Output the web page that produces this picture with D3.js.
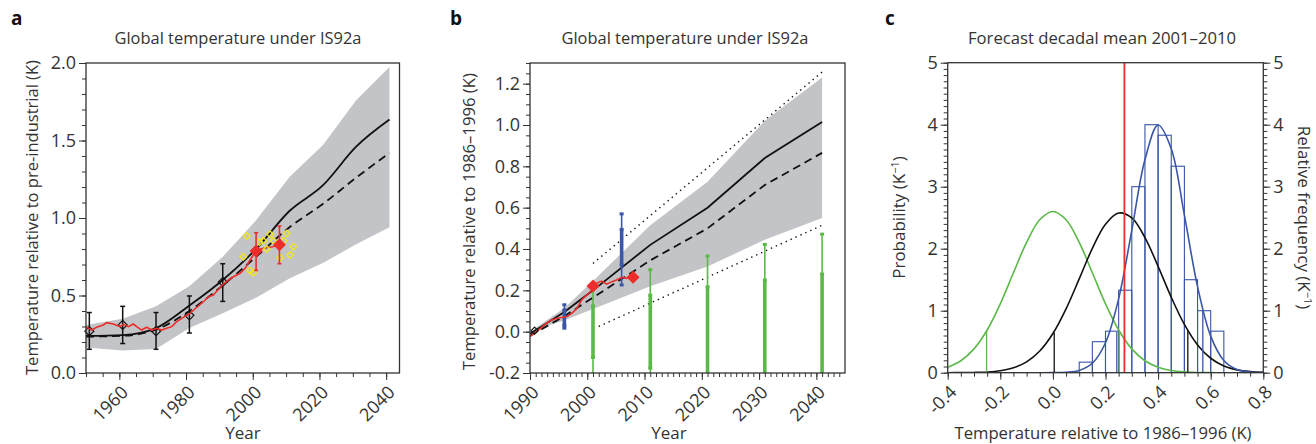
<!DOCTYPE html>
<html>
<head>
<meta charset="utf-8">
<script src="https://cdn.jsdelivr.net/npm/d3@7"></script>
<style>
body { margin: 0; background: #fff; }
svg text { font-family: "Open Sans", sans-serif; fill: #333; }
</style>
</head>
<body>
<div id="chart"></div>
<script>
// ---- panel a : temperature relative to pre-industrial ----
var bandYearsA = [1950, 1961, 1971, 1981, 1991, 2001, 2011, 2021, 2031, 2041]
var bandHiA = [0.31, 0.35, 0.43, 0.56, 0.75, 0.985, 1.265, 1.47, 1.76, 1.975]
var bandLoA = [0.165, 0.145, 0.155, 0.29, 0.385, 0.485, 0.61, 0.71, 0.83, 0.94]
var solidA = [0.24, 0.245, 0.29, 0.435, 0.6, 0.8, 1.045, 1.21, 1.46, 1.635]
var dashA = [0.235, 0.24, 0.28, 0.4, 0.565, 0.75, 0.94, 1.09, 1.26, 1.42]
var obsYearsA = [1951, 1961, 1971, 1981, 1991]
var obsA = [0.27, 0.31, 0.27, 0.372, 0.587]
var obsLoA = [0.153, 0.19, 0.153, 0.258, 0.462]
var obsHiA = [0.39, 0.43, 0.39, 0.497, 0.705]
var redYearsA = [1950, 1951.7, 1953.2, 1955.2, 1956.2, 1958.2, 1960.2, 1961.2, 1962.7, 1964.2, 1965.2,
  1966.7, 1968.2, 1969.7, 1971.2, 1972.7, 1974.2, 1975.7, 1977.2, 1979.2, 1981.2, 1983.2, 1985.2,
  1986.7, 1988.2, 1989.7, 1991.2, 1992.7, 1994.2, 1996.2, 1997.7, 1999.2, 2000.2, 2001, 2002.5,
  2004, 2006, 2008]
var redA = [0.299, 0.277, 0.295, 0.31, 0.325, 0.316, 0.299, 0.314, 0.299, 0.316, 0.299,
  0.277, 0.295, 0.277, 0.288, 0.277, 0.288, 0.299, 0.331, 0.359, 0.385, 0.424, 0.46,
  0.492, 0.503, 0.54, 0.574, 0.6, 0.621, 0.643, 0.675, 0.729, 0.761, 0.785, 0.8,
  0.81, 0.815, 0.828]
var fcYears = [2001, 2008]
var fcA = [0.787, 0.828]
var fcLoA = [0.662, 0.705]
var fcHiA = [0.905, 0.948]
var yelYearsA = [1998.2, 1997.2, 1999.2, 2000.2, 2002, 2003.2, 2004.2, 2005.2, 2006.2, 2009.2, 2010.2, 2008.2, 2011.2, 2012.2]
var yelA = [0.884, 0.75, 0.66, 0.647, 0.845, 0.853, 0.8, 0.895, 0.853, 0.853, 0.901, 0.744, 0.761, 0.815]

// ---- panel b : temperature relative to 1986-1996 ----
var bandYearsB = [1990, 1996, 2001, 2011, 2021, 2031, 2041]
var bandHiB = [0, 0.115, 0.245, 0.515, 0.725, 1.02, 1.23]
var bandLoB = [0, 0.055, 0.11, 0.22, 0.315, 0.445, 0.55]
var solidB = [-0.01, 0.095, 0.2, 0.42, 0.6, 0.84, 1.015]
var dashB = [-0.02, 0.075, 0.165, 0.345, 0.5, 0.71, 0.865]
var dotHiYearsB = [2001, 2041]
var dotHiB = [0.33, 1.256]
var dotLoYearsB = [2002, 2041]
var dotLoB = [0.025, 0.515]
var redYearsB = [1990, 1991.2, 1992.3, 1993.5, 1994.7, 1995.8, 1996.4, 1997.3, 1998.2, 1999, 1999.9,
  2000.8, 2001.6, 2002.5, 2003.4, 2004.3, 2005.1, 2006, 2006.9, 2007.5]
var redB = [-0.024, 0, 0.028, 0.053, 0.065, 0.07, 0.072, 0.089, 0.113, 0.153, 0.177,
  0.2, 0.234, 0.245, 0.23, 0.242, 0.25, 0.263, 0.258, 0.266]
var fcB = [0.221, 0.263]
var startYearB = [1990.8]
var startB = [0.005]
var blueYearsB = [1996, 2006]
var blueLoB = [0.017, 0.226]
var blueHiB = [0.13, 0.57]
var blueBoxLoB = [0.03, 0.322]
var blueBoxHiB = [0.105, 0.495]
var greenYearsB = [2001, 2011, 2021, 2031, 2041]
var greenLoB = [-0.21, -0.3, -0.366, -0.422, -0.472]
var greenHiB = [0.21, 0.3, 0.366, 0.422, 0.472]
var greenBoxLoB = [-0.125, -0.177, -0.217, -0.25, -0.279]
var greenBoxHiB = [0.125, 0.177, 0.217, 0.25, 0.279]

// ---- panel c : forecast decadal mean 2001-2010 ----
var tempC = [-0.4, -0.35, -0.3, -0.25, -0.2, -0.15, -0.1, -0.05, 0, 0.05, 0.1, 0.15, 0.2,
  0.25, 0.3, 0.35, 0.4, 0.45, 0.5, 0.55, 0.6, 0.65, 0.7, 0.75, 0.8]
var greenC = [0.087, 0.193, 0.384, 0.689, 1.111, 1.612, 2.102, 2.466, 2.6, 2.466, 2.102, 1.612, 1.111,
  0.689, 0.384, 0.193, 0.087, 0.035, 0.013, 0.004, 0.001, 0, 0, 0, 0]
var blackC = [0.0003, 0.001, 0.004, 0.012, 0.032, 0.078, 0.174, 0.349, 0.632, 1.03, 1.514, 2.005, 2.394,
  2.575, 2.496, 2.18, 1.716, 1.217, 0.778, 0.448, 0.233, 0.109, 0.046, 0.017, 0.006]
var blueC = [0, 0, 0, 0, 0, 0, 0, 0, 0.001, 0.007, 0.037, 0.152, 0.483,
  1.194, 2.297, 3.435, 3.995, 3.613, 2.54, 1.389, 0.59, 0.196, 0.05, 0.01, 0.002]
var binStartC = [0.1, 0.15, 0.2, 0.25, 0.3, 0.35, 0.4, 0.45, 0.5, 0.55, 0.6]
var binEndC = [0.15, 0.2, 0.25, 0.3, 0.35, 0.4, 0.45, 0.5, 0.55, 0.6, 0.65]
var histC = [0.17, 0.5, 0.67, 1.33, 3.0, 4.0, 3.83, 3.33, 1.5, 1.0, 0.67]
var greenPctC = [-0.252, 0.252], greenPctH = [0.68, 0.66]
var blackPctC = [0.005, 0.513], blackPctH = [0.65, 0.68]
var bluePctC = [0.243, 0.57], bluePctH = [0.66, 1.0]
var obsC = [0.272]

var grey = "#c3c4c7", red = "#ec2d2a", green = "#5bb947", blue = "#3a56a6", yellow = "#efe71c"

var svg = d3.select("#chart").append("svg")
    .attr("width", 1316)
    .attr("height", 444)

function zip(xs, ys) { return xs.map((d, i) => [d, ys[i]]) }
var fmt1 = d => d.toFixed(1)   // plain hyphen for negatives, like the original

function frame(x, y) {
  svg.append("rect")
    .attr("x", x.range()[0]).attr("y", y.range()[1])
    .attr("width", x.range()[1] - x.range()[0])
    .attr("height", y.range()[0] - y.range()[1])
    .attr("fill", "none").attr("stroke", "#333").attr("stroke-width", 1.3)
}

function clip(id, x, y) {
  svg.append("clipPath").attr("id", id).append("rect")
    .attr("x", x.range()[0]).attr("y", y.range()[1])
    .attr("width", x.range()[1] - x.range()[0])
    .attr("height", y.range()[0] - y.range()[1])
}

function axisX(x, y0, minor, major, fmt) {
  svg.append("g").attr("transform", "translate(0," + y0 + ")")
    .call(d3.axisBottom(x).tickValues(minor).tickSize(4).tickFormat(""))
    .attr("color", "#333")
    .call(g => g.select(".domain").remove())
  var g = svg.append("g").attr("transform", "translate(0," + y0 + ")")
    .call(d3.axisBottom(x).tickValues(major).tickSize(7).tickFormat(fmt))
    .attr("color", "#333").attr("font-size", 18)
  g.select(".domain").remove()
  g.selectAll("text")
    .attr("y", 0).attr("dy", "0.35em")
    .attr("text-anchor", "end")
    .attr("transform", "translate(5,16) rotate(-45)")
}

function axisY(y, x0, minor, major, fmt, right) {
  var ax = right ? d3.axisRight : d3.axisLeft
  svg.append("g").attr("transform", "translate(" + x0 + ",0)")
    .call(ax(y).tickValues(minor).tickSize(4).tickFormat(""))
    .attr("color", "#333")
    .call(g => g.select(".domain").remove())
  svg.append("g").attr("transform", "translate(" + x0 + ",0)")
    .call(ax(y).tickValues(major).tickSize(7).tickPadding(3).tickFormat(fmt))
    .attr("color", "#333").attr("font-size", 18)
    .call(g => g.select(".domain").remove())
}

function label(txt, x, y, opts) {
  opts = opts || {}
  var t = svg.append("text")
    .attr("transform", "translate(" + x + "," + y + ")" + (opts.rot ? " rotate(" + opts.rot + ")" : ""))
    .attr("text-anchor", opts.anchor || "middle")
    .attr("font-size", opts.size || 17)
    .text(txt)
  if (opts.bold) t.attr("font-weight", "bold").style("fill", "#111")
  if (opts.len) t.attr("textLength", opts.len).attr("lengthAdjust", "spacingAndGlyphs")
  return t
}

function diamond(r) { return "M0," + (-r) + "L" + r + ",0L0," + r + "L" + (-r) + ",0Z" }

function errorBars(g, x, y, xs, lo, hi, color, w, cap) {
  xs.forEach(function(d, i) {
    g.append("line").attr("x1", x(d)).attr("x2", x(d)).attr("y1", y(lo[i])).attr("y2", y(hi[i]))
      .attr("stroke", color).attr("stroke-width", w)
    ;[lo[i], hi[i]].forEach(v => {
      g.append("line").attr("x1", x(d) - cap).attr("x2", x(d) + cap).attr("y1", y(v)).attr("y2", y(v))
        .attr("stroke", color).attr("stroke-width", w)
    })
  })
}

// ================= panel a =================
var xA = d3.scaleLinear().domain([1950, 2044]).range([86, 399.5])
var yA = d3.scaleLinear().domain([0, 2]).range([373, 63])

svg.append("path")
  .datum(bandYearsA.map((d, i) => ({ x: d, lo: bandLoA[i], hi: bandHiA[i] })))
  .attr("fill", grey)
  .attr("d", d3.area().x(d => xA(d.x)).y0(d => yA(d.lo)).y1(d => yA(d.hi)))

var lineA = d3.line().x(d => xA(d[0])).y(d => yA(d[1])).curve(d3.curveMonotoneX)
svg.append("path").datum(zip(bandYearsA, dashA)).attr("d", lineA)
  .attr("fill", "none").attr("stroke", "#111").attr("stroke-width", 1.8).attr("stroke-dasharray", "8,5")
svg.append("path").datum(zip(bandYearsA, solidA)).attr("d", lineA)
  .attr("fill", "none").attr("stroke", "#111").attr("stroke-width", 1.8)

var gA = svg.append("g")
errorBars(gA, xA, yA, obsYearsA, obsLoA, obsHiA, "#111", 1.5, 2.5)
gA.selectAll(".obs").data(zip(obsYearsA, obsA)).join("path")
  .attr("transform", d => "translate(" + xA(d[0]) + "," + yA(d[1]) + ")")
  .attr("d", diamond(4.5)).attr("fill", "none").attr("stroke", "#111").attr("stroke-width", 1.2)

svg.append("path").datum(zip(redYearsA, redA))
  .attr("d", d3.line().x(d => xA(d[0])).y(d => yA(d[1])))
  .attr("fill", "none").attr("stroke", red).attr("stroke-width", 1.6)

svg.append("g").selectAll("path").data(zip(yelYearsA, yelA)).join("path")
  .attr("transform", d => "translate(" + xA(d[0]) + "," + yA(d[1]) + ")")
  .attr("d", diamond(3.3)).attr("fill", "none").attr("stroke", yellow).attr("stroke-width", 1.3)

var gA2 = svg.append("g")
errorBars(gA2, xA, yA, fcYears, fcLoA, fcHiA, red, 1.6, 2)
gA2.selectAll(".fc").data(zip(fcYears, fcA)).join("path")
  .attr("transform", d => "translate(" + xA(d[0]) + "," + yA(d[1]) + ")")
  .attr("d", diamond(6.5)).attr("fill", red)

frame(xA, yA)
axisX(xA, 373, d3.range(1950, 2045, 5), [1960, 1980, 2000, 2020, 2040], d3.format("d"))
axisY(yA, 86, d3.range(0, 2.01, 0.1), [0, 0.5, 1, 1.5, 2], fmt1)

label("a", 11, 25, { anchor: "start", bold: true, size: 19 })
label("Global temperature under IS92a", 238, 44, { len: 247 })
label("Temperature relative to pre-industrial (K)", 37.5, 217.5, { rot: -90, len: 315 })
label("Year", 243, 439)

// ================= panel b =================
var xB = d3.scaleLinear().domain([1990, 2045]).range([530, 845])
var yB = d3.scaleLinear().domain([-0.2, 1.3]).range([373, 63])
clip("clipB", xB, yB)
var gB = svg.append("g").attr("clip-path", "url(#clipB)")

gB.append("path")
  .datum(bandYearsB.map((d, i) => ({ x: d, lo: bandLoB[i], hi: bandHiB[i] })))
  .attr("fill", grey)
  .attr("d", d3.area().x(d => xB(d.x)).y0(d => yB(d.lo)).y1(d => yB(d.hi)))

var lineB = d3.line().x(d => xB(d[0])).y(d => yB(d[1]))
gB.append("path").datum(zip(dotHiYearsB, dotHiB)).attr("d", lineB)
  .attr("fill", "none").attr("stroke", "#111").attr("stroke-width", 1.4).attr("stroke-dasharray", "1.4,4")
gB.append("path").datum(zip(dotLoYearsB, dotLoB)).attr("d", lineB)
  .attr("fill", "none").attr("stroke", "#111").attr("stroke-width", 1.4).attr("stroke-dasharray", "1.4,4")
gB.append("path").datum(zip(bandYearsB, dashB)).attr("d", lineB)
  .attr("fill", "none").attr("stroke", "#111").attr("stroke-width", 1.8).attr("stroke-dasharray", "8,5")
gB.append("path").datum(zip(bandYearsB, solidB)).attr("d", lineB)
  .attr("fill", "none").attr("stroke", "#111").attr("stroke-width", 1.8)

// green persistence bars
greenYearsB.forEach(function(d, i) {
  gB.append("line").attr("x1", xB(d)).attr("x2", xB(d)).attr("y1", yB(greenLoB[i])).attr("y2", yB(greenHiB[i]))
    .attr("stroke", green).attr("stroke-width", 1.6)
  gB.append("line").attr("x1", xB(d)).attr("x2", xB(d)).attr("y1", yB(greenBoxLoB[i])).attr("y2", yB(greenBoxHiB[i]))
    .attr("stroke", green).attr("stroke-width", 3.6)
  ;[greenHiB[i], greenBoxHiB[i], greenBoxLoB[i]].forEach(v => {
    gB.append("rect").attr("x", xB(d) - 2).attr("y", yB(v) - 1.5).attr("width", 4).attr("height", 3).attr("fill", green)
  })
})

// blue hindcast bars
blueYearsB.forEach(function(d, i) {
  gB.append("line").attr("x1", xB(d)).attr("x2", xB(d)).attr("y1", yB(blueLoB[i])).attr("y2", yB(blueHiB[i]))
    .attr("stroke", blue).attr("stroke-width", 1.6)
  gB.append("line").attr("x1", xB(d)).attr("x2", xB(d)).attr("y1", yB(blueBoxLoB[i])).attr("y2", yB(blueBoxHiB[i]))
    .attr("stroke", blue).attr("stroke-width", 3.6)
  ;[blueLoB[i], blueHiB[i], blueBoxLoB[i], blueBoxHiB[i]].forEach(v => {
    gB.append("rect").attr("x", xB(d) - 2).attr("y", yB(v) - 1.5).attr("width", 4).attr("height", 3).attr("fill", blue)
  })
})

gB.append("path").datum(zip(redYearsB, redB)).attr("d", lineB)
  .attr("fill", "none").attr("stroke", red).attr("stroke-width", 1.6)
gB.selectAll(".fcb").data(zip(fcYears, fcB)).join("path")
  .attr("transform", d => "translate(" + xB(d[0]) + "," + yB(d[1]) + ")")
  .attr("d", diamond(6.5)).attr("fill", red)
gB.selectAll(".st").data(zip(startYearB, startB)).join("path")
  .attr("transform", d => "translate(" + xB(d[0]) + "," + yB(d[1]) + ")")
  .attr("d", diamond(3.5)).attr("fill", "none").attr("stroke", "#111").attr("stroke-width", 1.1)

frame(xB, yB)
axisX(xB, 373, d3.range(1990, 2045, 1), [1990, 2000, 2010, 2020, 2030, 2040], d3.format("d"))
axisY(yB, 530, d3.range(-0.2, 1.301, 0.05), [-0.2, 0, 0.2, 0.4, 0.6, 0.8, 1.0, 1.2], fmt1)

label("b", 450, 25, { anchor: "start", bold: true, size: 19 })
label("Global temperature under IS92a", 685, 44, { len: 247 })
label("Temperature relative to 1986\u20131996 (K)", 474.5, 221.7, { rot: -90, len: 297 })
label("Year", 669, 439)

// ================= panel c =================
var xC = d3.scaleLinear().domain([-0.4, 0.8]).range([947.7, 1263.3])
var yC = d3.scaleLinear().domain([0, 5]).range([372.7, 62.7])
clip("clipC", xC, yC)
var gC = svg.append("g").attr("clip-path", "url(#clipC)")

gC.selectAll(".bin").data(histC).join("rect")
  .attr("x", (d, i) => xC(binStartC[i]))
  .attr("y", d => yC(d))
  .attr("width", (d, i) => xC(binEndC[i]) - xC(binStartC[i]))
  .attr("height", d => yC(0) - yC(d))
  .attr("fill", "none").attr("stroke", blue).attr("stroke-width", 1.1)

var lineC = d3.line().x(d => xC(d[0])).y(d => yC(d[1])).curve(d3.curveCatmullRom)
;[[greenC, green], [blackC, "#111"], [blueC, blue]].forEach(function(c) {
  gC.append("path").datum(zip(tempC, c[0])).attr("d", lineC)
    .attr("fill", "none").attr("stroke", c[1]).attr("stroke-width", 1.6)
})
;[[greenPctC, greenPctH, green], [blackPctC, blackPctH, "#111"], [bluePctC, bluePctH, blue]].forEach(function(c) {
  c[0].forEach(function(v, i) {
    gC.append("line").attr("x1", xC(v)).attr("x2", xC(v)).attr("y1", yC(0)).attr("y2", yC(c[1][i]))
      .attr("stroke", c[2]).attr("stroke-width", 1.3)
  })
})
gC.selectAll(".obsc").data(obsC).join("line")
  .attr("x1", d => xC(d)).attr("x2", d => xC(d)).attr("y1", yC(0)).attr("y2", yC(5))
  .attr("stroke", red).attr("stroke-width", 1.8)

frame(xC, yC)
axisX(xC, 372.7, d3.range(-0.4, 0.801, 0.05), [-0.4, -0.2, 0, 0.2, 0.4, 0.6, 0.8], fmt1)
axisY(yC, 947.7, d3.range(0, 5.01, 0.1), [0, 1, 2, 3, 4, 5], d3.format("d"))
axisY(yC, 1263.3, d3.range(0, 5.01, 0.1), [0, 1, 2, 3, 4, 5], d3.format("d"), true)

label("c", 885, 25, { anchor: "start", bold: true, size: 19 })
label("Forecast decadal mean 2001\u20132010", 1102, 44, { len: 268 })
var pl = label("Probability (K", 905, 217.5, { rot: -90 })
pl.append("tspan").attr("dy", -6).attr("font-size", 11).text("\u22121")
pl.append("tspan").attr("dy", 6).text(")")
var rl = label("Relative frequency  (K", 1298, 217.5, { rot: 90 })
rl.append("tspan").attr("dy", -6).attr("font-size", 11).text("\u22121")
rl.append("tspan").attr("dy", 6).text(")")
label("Temperature relative to 1986\u20131996 (K)", 1103, 439, { len: 297 })
</script>
</body>
</html>
